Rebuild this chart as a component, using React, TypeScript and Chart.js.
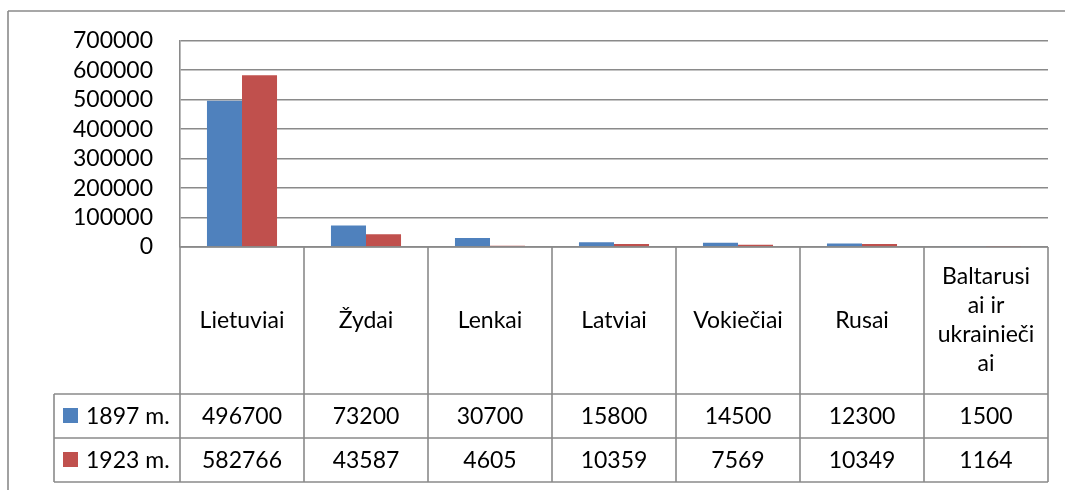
import React, { useEffect, useRef } from "react";
import { Chart, registerables } from "chart.js";

Chart.register(...registerables);

// ---- data ----
const categories: (string | string[])[] = [
  "Lietuviai",
  "Žydai",
  "Lenkai",
  "Latviai",
  "Vokiečiai",
  "Rusai",
  ["Baltarusi", "ai ir", "ukrainieči", "ai"],
];
const seriesNames = ["1897 m.", "1923 m."];
const values1897 = [496700, 73200, 30700, 15800, 14500, 12300, 1500];
const values1923 = [582766, 43587, 4605, 10359, 7569, 10349, 1164];
const yTicksMax = 700000;
const yTicksStep = 100000;

// ---- style ----
const COLORS = ["#4F81BD", "#C0504D"];
const LINE = "#8a8a8a";
const FONT = "Lato, 'Open Sans', sans-serif";
const FONT_SIZE = 23;
const W = 1065;
const H = 490;

const tablePlugin = {
  id: "dataTable",
  afterDraw(chart: any) {
    const ctx: CanvasRenderingContext2D = chart.ctx;
    const { left, right, bottom } = chart.chartArea;
    const xs = chart.scales.x;
    const n = categories.length;
    const colW = (right - left) / n;
    const headerBottom = 394;
    const row1Bottom = 438;
    const row2Bottom = 482;
    const legendLeft = 54;

    const line = (x1: number, y1: number, x2: number, y2: number) => {
      ctx.beginPath();
      ctx.moveTo(x1, y1);
      ctx.lineTo(x2, y2);
      ctx.stroke();
    };

    ctx.save();
    ctx.strokeStyle = LINE;
    ctx.lineWidth = 1.6;
    // outer chart frame
    line(8, 11, W, 11);
    line(8, 11, 8, H);

    // table grid
    line(left, bottom, right, bottom);
    line(legendLeft, headerBottom, right, headerBottom);
    line(legendLeft, row1Bottom, right, row1Bottom);
    line(legendLeft, row2Bottom, right, row2Bottom);
    for (let i = 0; i <= n; i++) {
      const xi = left + i * colW;
      line(xi, bottom, xi, row2Bottom);
    }
    line(legendLeft, headerBottom, legendLeft, row2Bottom);

    // texts
    ctx.fillStyle = "#000";
    ctx.font = `${FONT_SIZE}px ${FONT}`;
    ctx.textAlign = "center";
    ctx.textBaseline = "middle";
    const headerMid = (bottom + headerBottom) / 2;
    const lineH = 29;
    categories.forEach((c, i) => {
      const cx = xs.getPixelForValue(i);
      const lines = Array.isArray(c) ? c : [c];
      const start = headerMid - ((lines.length - 1) * lineH) / 2;
      lines.forEach((t, k) => ctx.fillText(t, cx, start + k * lineH));
    });

    const rows = [values1897, values1923];
    const rowMids = [(headerBottom + row1Bottom) / 2, (row1Bottom + row2Bottom) / 2];
    rows.forEach((vals, r) => {
      vals.forEach((v, i) => {
        ctx.textAlign = "center";
        ctx.fillText(String(v), xs.getPixelForValue(i), rowMids[r] + 1);
      });
      ctx.fillStyle = COLORS[r];
      ctx.fillRect(63, rowMids[r] - 8, 15, 15);
      ctx.fillStyle = "#000";
      ctx.textAlign = "left";
      ctx.fillText(seriesNames[r], 86, rowMids[r] + 1);
    });
    ctx.restore();
  },
};

export default function App() {
  const ref = useRef<HTMLCanvasElement | null>(null);

  useEffect(() => {
    if (!ref.current) return;
    const chart = new Chart(ref.current, {
      type: "bar",
      data: {
        labels: categories as any,
        datasets: [
          {
            label: seriesNames[0],
            data: values1897,
            backgroundColor: COLORS[0],
            borderWidth: 0,
            categoryPercentage: 0.565,
            barPercentage: 1,
          },
          {
            label: seriesNames[1],
            data: values1923,
            backgroundColor: COLORS[1],
            borderWidth: 0,
            categoryPercentage: 0.565,
            barPercentage: 1,
          },
        ],
      },
      options: {
        responsive: false,
        animation: false,
        layout: { padding: { left: 0, top: 40, right: 17, bottom: 243 } },
        plugins: {
          legend: { display: false },
          tooltip: { enabled: false },
        },
        scales: {
          x: { display: false },
          y: {
            min: 0,
            max: yTicksMax,
            afterFit(scale: any) {
              scale.width = 180;
            },
            ticks: {
              stepSize: yTicksStep,
              autoSkip: false,
              padding: 27,
              color: "#000",
              font: { family: FONT, size: FONT_SIZE },
              callback: (v: any) => String(v),
            },
            grid: {
              color: LINE,
              lineWidth: 1.6,
              drawTicks: false,
            },
            border: { color: LINE, width: 1.6 },
          },
        },
      },
      plugins: [tablePlugin],
    });
    return () => chart.destroy();
  }, []);

  return (
    <div style={{ position: "fixed", left: 0, top: 0, width: W, height: H, background: "#fff" }}>
      <canvas ref={ref} width={W} height={H} style={{ display: "block" }} />
    </div>
  );
}
